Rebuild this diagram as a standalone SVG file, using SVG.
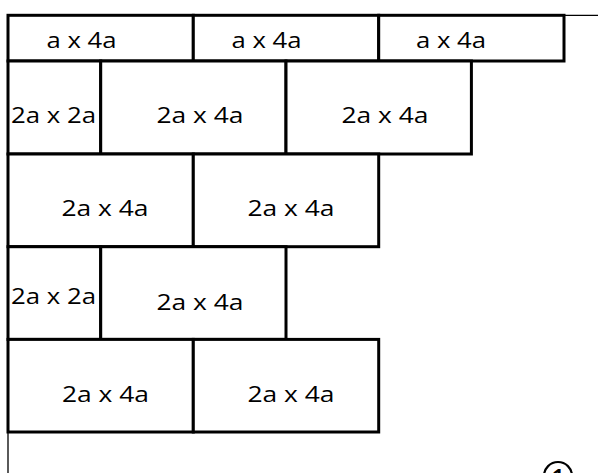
<svg xmlns="http://www.w3.org/2000/svg" width="598" height="473" viewBox="0 0 598 473">
<style>
.b{fill:#fff;stroke:#000;stroke-width:3}
.t{font-family:"Open Sans","DejaVu Sans",sans-serif;font-size:22.5px;fill:#000;text-anchor:middle}
.thin{stroke:#000;stroke-width:1.3;fill:none}
</style>
<rect width="598" height="473" fill="#fff"/>
<g id="connectors">
<line class="thin" x1="564" y1="15.3" x2="598" y2="15.3"/>
<line class="thin" x1="8" y1="432" x2="8" y2="473"/>
</g>
<g id="r1a"><rect class="b" x="8" y="15.3" width="185.3" height="45.7"/><text class="t" x="81.5" y="47.5" textLength="70" lengthAdjust="spacingAndGlyphs">a x 4a</text></g>
<g id="r1b"><rect class="b" x="193.3" y="15.3" width="185.4" height="45.7"/><text class="t" x="266.5" y="47.5" textLength="70" lengthAdjust="spacingAndGlyphs">a x 4a</text></g>
<g id="r1c"><rect class="b" x="378.7" y="15.3" width="185.3" height="45.7"/><text class="t" x="451" y="47.5" textLength="70" lengthAdjust="spacingAndGlyphs">a x 4a</text></g>
<g id="r2a"><rect class="b" x="8" y="61" width="92.7" height="93"/><text class="t" x="53.5" y="122.5" textLength="85" lengthAdjust="spacingAndGlyphs">2a x 2a</text></g>
<g id="r2b"><rect class="b" x="100.7" y="61" width="185.3" height="93"/><text class="t" x="200" y="122.5" textLength="87" lengthAdjust="spacingAndGlyphs">2a x 4a</text></g>
<g id="r2c"><rect class="b" x="286" y="61" width="185.4" height="93"/><text class="t" x="385" y="122.5" textLength="87" lengthAdjust="spacingAndGlyphs">2a x 4a</text></g>
<g id="r3a"><rect class="b" x="8" y="154" width="185.3" height="92.7"/><text class="t" x="105" y="216" textLength="87" lengthAdjust="spacingAndGlyphs">2a x 4a</text></g>
<g id="r3b"><rect class="b" x="193.3" y="154" width="185.4" height="92.7"/><text class="t" x="291" y="216" textLength="87" lengthAdjust="spacingAndGlyphs">2a x 4a</text></g>
<g id="r4a"><rect class="b" x="8" y="246.7" width="92.7" height="92.7"/><text class="t" x="53.5" y="303.5" textLength="85" lengthAdjust="spacingAndGlyphs">2a x 2a</text></g>
<g id="r4b"><rect class="b" x="100.7" y="246.7" width="185.3" height="92.7"/><text class="t" x="200" y="309.5" textLength="87" lengthAdjust="spacingAndGlyphs">2a x 4a</text></g>
<g id="r5a"><rect class="b" x="8" y="339.4" width="185.3" height="92.6"/><text class="t" x="105.5" y="401.5" textLength="87" lengthAdjust="spacingAndGlyphs">2a x 4a</text></g>
<g id="r5b"><rect class="b" x="193.3" y="339.4" width="185.4" height="92.6"/><text class="t" x="291" y="401.5" textLength="87" lengthAdjust="spacingAndGlyphs">2a x 4a</text></g>
<g id="marker1"><circle cx="558" cy="476" r="14" fill="#fff" stroke="#000" stroke-width="2.2"/><text x="558" y="483" font-family="'Open Sans','DejaVu Sans',sans-serif" font-size="20" font-weight="bold" text-anchor="middle" fill="#000">1</text></g>
</svg>
